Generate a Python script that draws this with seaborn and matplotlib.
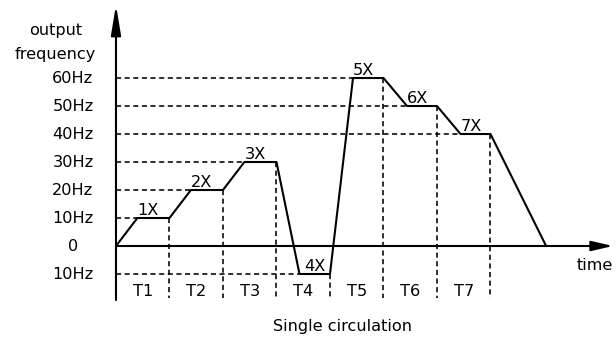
import matplotlib
matplotlib.use("Agg")
import matplotlib.pyplot as plt
import seaborn as sns
import pandas as pd

# Multi-speed run profile: breakpoints of the output frequency over one cycle
times = [0, 4, 10, 14, 20, 24, 30, 34.3, 40, 44.3, 50, 54.4, 60, 64.4, 70, 80.4]
freqs = [0, 10, 10, 20, 20, 30, 30, -10, -10, 60, 60, 50, 50, 40, 40, 0]

step_labels = ["1X", "2X", "3X", "4X", "5X", "6X", "7X"]
period_labels = ["T1", "T2", "T3", "T4", "T5", "T6", "T7"]
level_values = [60, 50, 40, 30, 20, 10, 0, -10]
level_labels = ["60Hz", "50Hz", "40Hz", "30Hz", "20Hz", "10Hz", "0", "10Hz"]

sns.set_theme(style="white")
plt.rcParams["font.family"] = ["DejaVu Sans"]
plt.rcParams["text.color"] = "black"

fig = plt.figure(figsize=(6.16, 3.37), dpi=100)
ax = fig.add_axes([0, 0, 1, 1])
ax.set_xlim(-21.68, 93.46)
ax.set_ylim(-32.5, 87.86)
ax.set_axis_off()

FS = 11.6
dash = (0, (3.2, 2.2))
bottom = -18.6

# plateaus: consecutive breakpoints with equal, non-zero frequency
plateaus = [(times[i], times[i + 1], freqs[i])
            for i in range(len(times) - 1)
            if freqs[i] == freqs[i + 1] and freqs[i] != 0]

# guide lines: horizontal from the axis to each plateau, vertical below each plateau end
for t0, t1, f in plateaus:
    ax.plot([0, t0], [f, f], color="black", lw=1.15, ls=dash)
    ax.plot([t1, t1], [f, bottom], color="black", lw=1.15, ls=dash)

# frequency curve
df = pd.DataFrame({"time": times, "frequency": freqs})
sns.lineplot(data=df, x="time", y="frequency", sort=False, color="black",
             lw=1.5, ax=ax, legend=False)

# axes with arrow heads
ax.annotate("", xy=(0, 86.07), xytext=(0, -19.3),
            arrowprops=dict(arrowstyle="-|>,head_length=0.9,head_width=0.15",
                            mutation_scale=20, lw=1.5, color="black",
                            shrinkA=0, shrinkB=0))
ax.annotate("", xy=(92.9, 0), xytext=(0, 0),
            arrowprops=dict(arrowstyle="-|>,head_length=0.65,head_width=0.15",
                            mutation_scale=20, lw=1.5, color="black",
                            shrinkA=0, shrinkB=0))

# step labels sitting on their plateaus
for (t0, t1, f), lab in zip(plateaus, step_labels):
    dx = 0.9 if f < 0 else 0.0
    ax.text(t0 + dx, f + 1.2, lab, ha="left", va="baseline", fontsize=FS)

# period labels between the vertical guides
starts = [0] + [p[1] for p in plateaus[:-1]]
ends = [p[1] for p in plateaus]
for s, e, lab in zip(starts, ends, period_labels):
    ax.text((s + e) / 2, -16.1, lab, ha="center", va="center", fontsize=FS)

# frequency level labels
for v, lab in zip(level_values, level_labels):
    ax.text(-8.04, v, lab, ha="center", va="center", fontsize=FS)

ax.text(-11.3, 75.4, "output", ha="center", va="baseline", fontsize=FS)
ax.text(-11.3, 66.8, "frequency", ha="center", va="baseline", fontsize=FS)
ax.text(89.5, -7.1, "time", ha="center", va="center", fontsize=FS)
ax.text(42.4, -28.6, "Single circulation", ha="center", va="center", fontsize=FS)

fig.savefig("out.png", dpi=100)
